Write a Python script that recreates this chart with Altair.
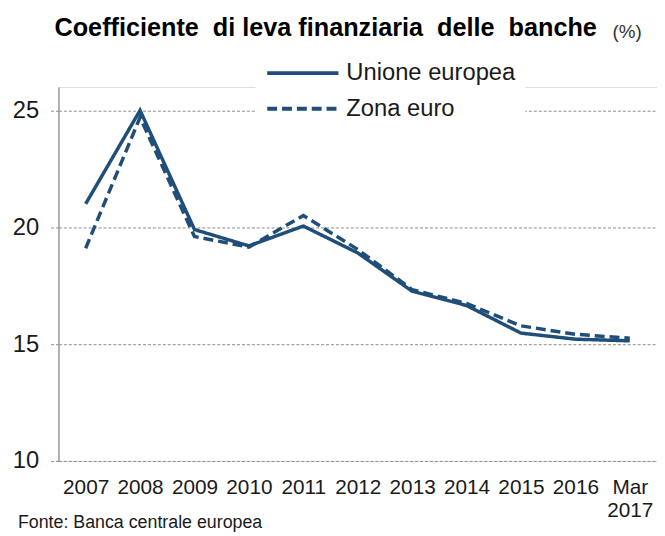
import altair as alt
import pandas as pd

years = ["2007", "2008", "2009", "2010", "2011", "2012", "2013", "2014", "2015", "2016", "Mar 2017"]
unione_europea = [21.0, 25.0, 19.9, 19.2, 20.05, 18.9, 17.26, 16.65, 15.47, 15.21, 15.14]
zona_euro = [19.1, 24.7, 19.6, 19.15, 20.5, 19.05, 17.33, 16.74, 15.78, 15.42, 15.25]
series = ["Unione europea", "Zona euro"]
y_ticks = [10, 15, 20, 25]
title_text = "Coefficiente\u00a0 di leva finanziaria\u00a0 delle\u00a0 banche"
unit_text = "(%)"
source_text = "Fonte: Banca centrale europea"

rows = []
for s, vals in zip(series, [unione_europea, zona_euro]):
    for yr, v in zip(years, vals):
        rows.append({"anno": yr, "serie": s, "valore": v})
df = pd.DataFrame(rows)

BLUE = "#1f4e79"
FONT = "Liberation Sans"

legend = alt.Legend(
    title=None, orient="none", legendX=199, legendY=-36,
    fillColor="white", padding=10,
    symbolType="stroke", symbolSize=5184, symbolStrokeWidth=4,
    labelFont=FONT, labelFontSize=24, labelColor="#1a1a1a",
    labelOffset=6, clipHeight=24, rowPadding=12, labelLimit=400,
)

lines = alt.Chart(df).mark_line(strokeWidth=3.5).encode(
    x=alt.X("anno:N", sort=years, scale=alt.Scale(type="point", padding=0.5),
            axis=alt.Axis(title=None, labelAngle=0, domain=False, ticks=False, grid=False,
                          labelFont=FONT, labelFontSize=21, labelColor="#1a1a1a",
                          labelPadding=16, labelLineHeight=23,
                          labelExpr="datum.value == 'Mar 2017' ? ['Mar', '2017'] : datum.value")),
    y=alt.Y("valore:Q", scale=alt.Scale(domain=[10, 26], nice=False, zero=False),
            axis=alt.Axis(title=None, values=y_ticks, grid=True, gridDash=[3, 2],
                          gridColor="#8c8c8c", gridWidth=1,
                          tickSize=9, tickDash=[3, 2], tickColor="#8c8c8c",
                          domainColor="#9a9a9a", domainWidth=1.5,
                          labelFont=FONT, labelFontSize=24, labelColor="#1a1a1a",
                          labelPadding=11)),
    color=alt.Color("serie:N", scale=alt.Scale(domain=series, range=[BLUE, BLUE]), legend=legend),
    strokeDash=alt.StrokeDash("serie:N", scale=alt.Scale(domain=series, range=[[1, 0], [10, 5]]), legend=legend),
)

title = alt.Chart(pd.DataFrame({"t": [title_text]})).mark_text(
    font=FONT, fontSize=25.5, fontWeight="bold", color="#000000", align="left", baseline="alphabetic"
).encode(text="t:N", x=alt.value(-4), y=alt.value(-52))

pct = alt.Chart(pd.DataFrame({"t": [unit_text]})).mark_text(
    font=FONT, fontSize=19, color="#333333", align="left", baseline="alphabetic"
).encode(text="t:N", x=alt.value(560), y=alt.value(-50))

source = alt.Chart(pd.DataFrame({"t": [source_text]})).mark_text(
    font=FONT, fontSize=18, color="#1a1a1a", align="left", baseline="alphabetic"
).encode(text="t:N", x=alt.value(-41), y=alt.value(446))

chart = alt.layer(lines, title, pct, source).properties(
    width=605, height=378,
    autosize=alt.AutoSizeParams(type="none"),
    padding={"left": 51, "top": 77, "right": 0, "bottom": 70},
).configure_view(stroke=None).configure(background="white")

chart.save("out.html", embed_options={"renderer": "svg", "actions": False})
